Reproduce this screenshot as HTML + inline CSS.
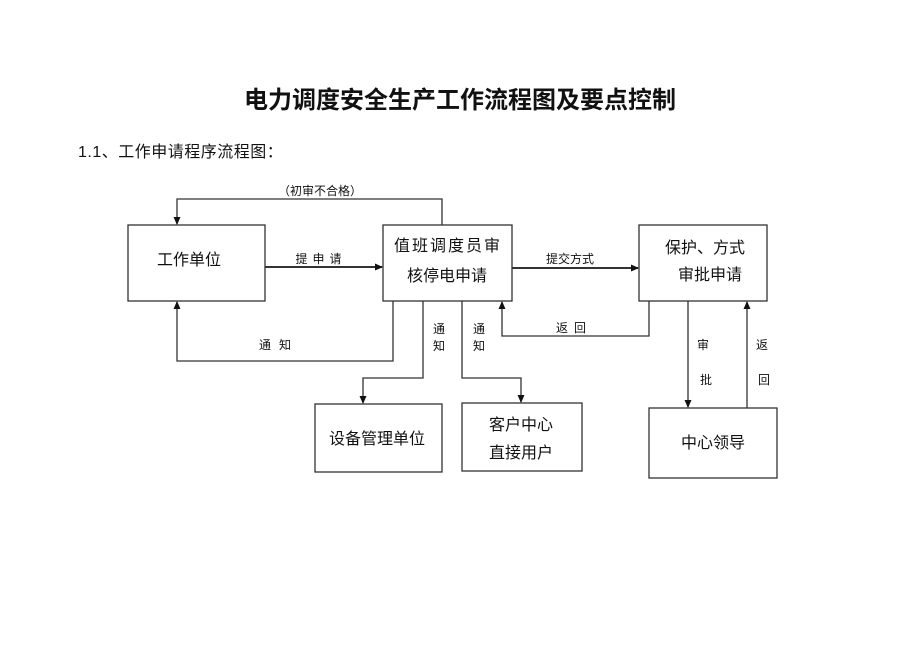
<!DOCTYPE html>
<html><head><meta charset="utf-8"><style>
body{margin:0;background:#fff;}
svg text{font-family:"Liberation Sans","Noto Sans CJK SC",sans-serif;fill:#111;}
</style></head><body>
<svg width="920" height="651" viewBox="0 0 920 651" xmlns="http://www.w3.org/2000/svg">
<defs><marker id="a" markerWidth="8" markerHeight="8" refX="7" refY="4" orient="auto" markerUnits="userSpaceOnUse"><path d="M0,0.5 L8,4 L0,7.5Z" fill="#111"/></marker></defs>
<text x="460" y="108" font-size="24" font-weight="bold" text-anchor="middle">电力调度安全生产工作流程图及要点控制</text>
<text x="78" y="157" font-size="16" letter-spacing="0.5">1.1、工作申请程序流程图：</text>
<g fill="none" stroke="#333" stroke-width="1.3">
<rect x="128" y="225" width="137" height="76"/>
<rect x="383" y="225" width="129" height="76"/>
<rect x="639" y="225" width="128" height="76"/>
<rect x="315" y="404" width="127" height="68"/>
<rect x="462" y="403" width="120" height="68"/>
<rect x="649" y="408" width="128" height="70"/>
<polyline points="442,225 442,199 177,199 177,224" marker-end="url(#a)"/>
<line x1="265" y1="267" x2="382" y2="267" marker-end="url(#a)" stroke-width="2"/>
<polyline points="393,301 393,361 177,361 177,302" marker-end="url(#a)"/>
<polyline points="423,301 423,378 363,378 363,403" marker-end="url(#a)"/>
<polyline points="462,301 462,378 521,378 521,402" marker-end="url(#a)"/>
<line x1="512" y1="268" x2="638" y2="268" marker-end="url(#a)" stroke-width="2"/>
<polyline points="649,301 649,336 502,336 502,302" marker-end="url(#a)"/>
<line x1="688" y1="301" x2="688" y2="407" marker-end="url(#a)"/>
<line x1="747" y1="408" x2="747" y2="302" marker-end="url(#a)"/>
</g>
<g font-size="16">
<text x="189" y="265" text-anchor="middle">工作单位</text>
<text x="448" y="251" text-anchor="middle" letter-spacing="2">值班调度员审</text>
<text x="447" y="281" text-anchor="middle">核停电申请</text>
<text x="705" y="253" text-anchor="middle">保护、方式</text>
<text x="710" y="280" text-anchor="middle">审批申请</text>
<text x="377" y="444" text-anchor="middle">设备管理单位</text>
<text x="521" y="430" text-anchor="middle">客户中心</text>
<text x="521" y="458" text-anchor="middle">直接用户</text>
<text x="713" y="448" text-anchor="middle">中心领导</text>
</g>
<g font-size="12" fill="#222">
<text x="320" y="195" text-anchor="middle">（初审不合格）</text>
<text x="321" y="263" text-anchor="middle" letter-spacing="5">提申请</text>
<text x="570" y="263" text-anchor="middle">提交方式</text>
<text x="279" y="349" text-anchor="middle" letter-spacing="8">通知</text>
<text x="574" y="332" text-anchor="middle" letter-spacing="6">返回</text>
<text x="439" y="333" text-anchor="middle">通</text>
<text x="439" y="350" text-anchor="middle">知</text>
<text x="479" y="333" text-anchor="middle">通</text>
<text x="479" y="350" text-anchor="middle">知</text>
<text x="703" y="349" text-anchor="middle">审</text>
<text x="706" y="384" text-anchor="middle">批</text>
<text x="762" y="349" text-anchor="middle">返</text>
<text x="764" y="384" text-anchor="middle">回</text>
</g>
</svg>
</body></html>
